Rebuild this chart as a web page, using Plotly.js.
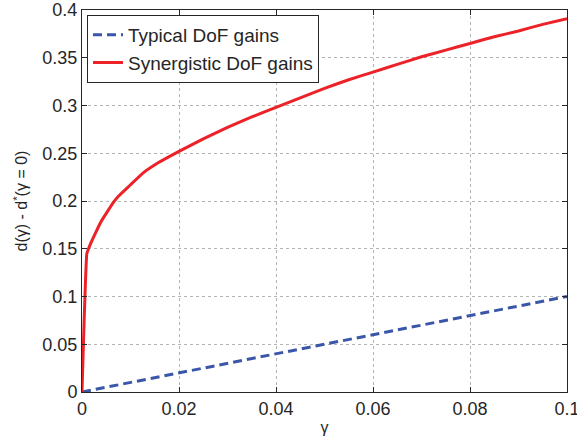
<!DOCTYPE html>
<html>
<head>
<meta charset="utf-8">
<script src="https://cdn.plot.ly/plotly-3.0.1.min.js"></script>
<style>html,body{margin:0;padding:0;background:#fff;}#chart{width:577px;height:444px;}</style>
</head>
<body>
<div id="chart"></div>
<script>
const typicalX = [0, 0.1];
const typicalY = [0, 0.1];
const synergX = [0, 0.001, 0.0015, 0.002, 0.0033, 0.004, 0.005, 0.0064, 0.0075, 0.01, 0.0125, 0.0157, 0.02, 0.025, 0.03, 0.035, 0.04, 0.045, 0.05, 0.055, 0.06, 0.065, 0.07, 0.075, 0.08, 0.085, 0.09, 0.095, 0.1];
const synergY = [0, 0.145, 0.152, 0.158, 0.172, 0.179, 0.187, 0.198, 0.205, 0.217, 0.229, 0.240, 0.252, 0.265, 0.277, 0.288, 0.298, 0.308, 0.318, 0.327, 0.335, 0.343, 0.351, 0.358, 0.365, 0.372, 0.378, 0.385, 0.391];
const xTicks = [0, 0.02, 0.04, 0.06, 0.08, 0.1];
const xTickText = ["0", "0.02", "0.04", "0.06", "0.08", "0.1"];
const yTicks = [0, 0.05, 0.1, 0.15, 0.2, 0.25, 0.3, 0.35, 0.4];
const yTickText = ["0", "0.05", "0.1", "0.15", "0.2", "0.25", "0.3", "0.35", "0.4"];

const font = {family: "Liberation Sans, Arial, sans-serif", size: 18, color: "#262626"};
const titleFont = {family: "Liberation Sans, Arial, sans-serif", size: 16, color: "#262626"};

const traces = [
  {x: typicalX, y: typicalY, mode: "lines", name: "Typical DoF gains",
   line: {color: "#3a56a8", width: 3, dash: "9px,5px"}},
  {x: synergX, y: synergY, mode: "lines", name: "Synergistic DoF gains",
   line: {color: "#ec2228", width: 3, shape: "spline", smoothing: 0.3}}
];

const axisCommon = {
  showline: true, linecolor: "#262626", linewidth: 1, mirror: "ticks",
  ticks: "inside", ticklen: 5, tickcolor: "#262626",
  showgrid: true, gridcolor: "#b4b4b4", griddash: "dot", gridwidth: 1,
  zeroline: false, tickfont: font, ticklabeloverflow: "allow"
};

const layout = {
  width: 577, height: 444,
  margin: {l: 82, r: 10, t: 10, b: 52},
  paper_bgcolor: "#fff", plot_bgcolor: "#fff",
  font: font,
  showlegend: true,
  legend: {x: 0.0103, y: 0.987, xanchor: "left", yanchor: "top",
           bordercolor: "#262626", borderwidth: 1, bgcolor: "#fff",
           font: {family: font.family, size: 19, color: "#262626"},
           tracegroupgap: 0},
  xaxis: Object.assign({}, axisCommon, {
    range: [0, 0.1000001], tickvals: xTicks, ticktext: xTickText,
    title: {text: "γ", font: titleFont, standoff: 4}
  }),
  yaxis: Object.assign({}, axisCommon, {
    range: [0, 0.4000001], tickvals: yTicks, ticktext: yTickText,
    title: {text: "d(γ) - d<sup>*</sup>(γ = 0)", font: titleFont, standoff: 10}
  })
};

Plotly.newPlot("chart", traces, layout, {staticPlot: true});
</script>
</body>
</html>
